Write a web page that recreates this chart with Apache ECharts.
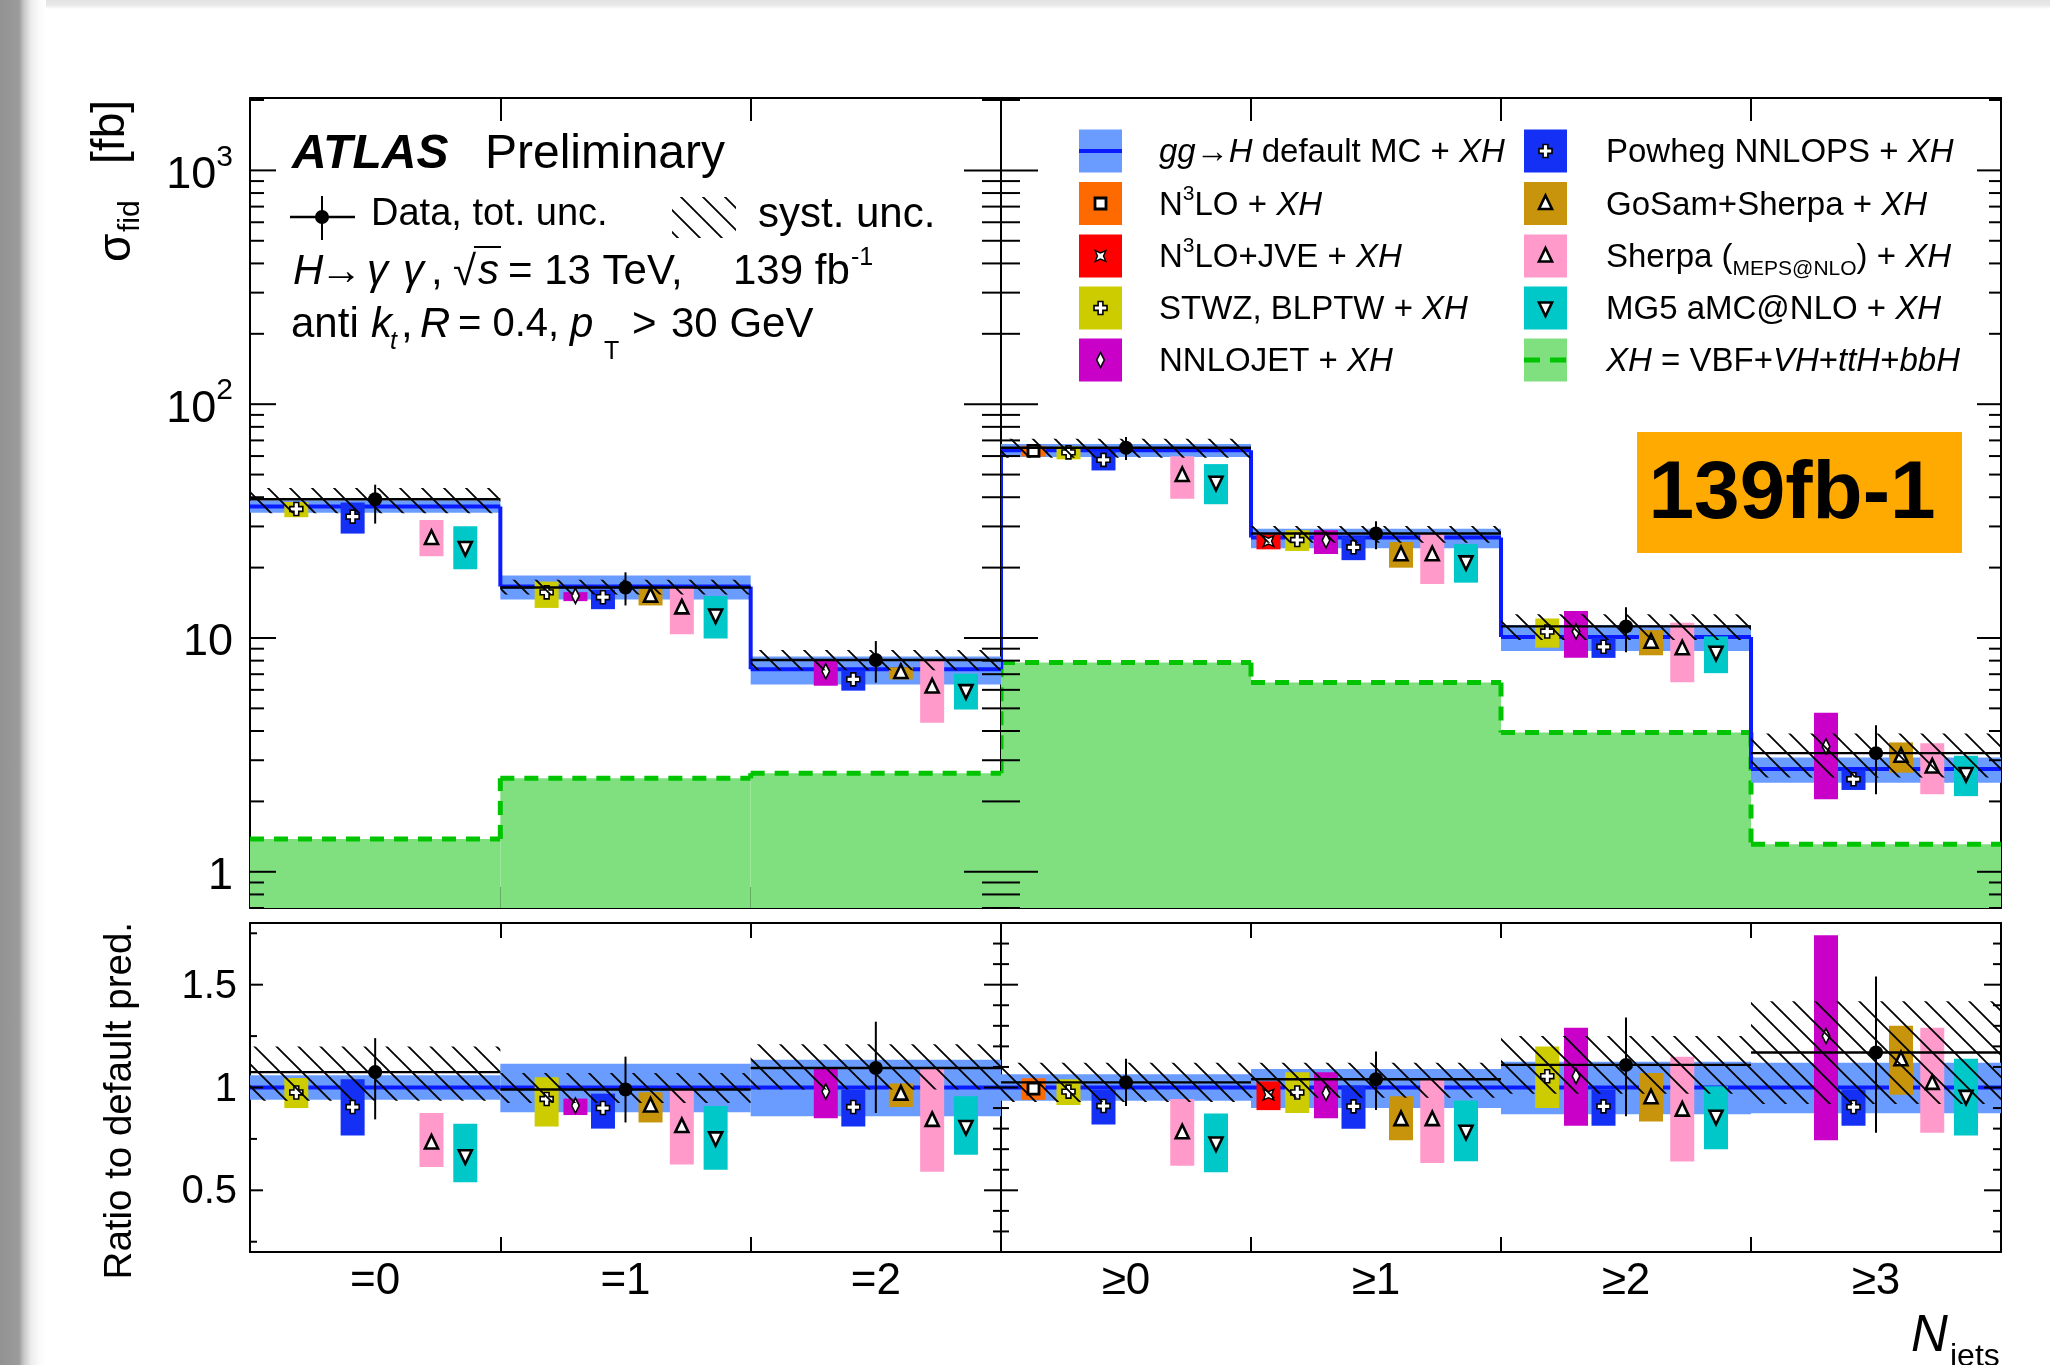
<!DOCTYPE html>
<html>
<head>
<meta charset="utf-8">
<script src="https://cdn.jsdelivr.net/npm/echarts@6/dist/echarts.min.js"></script>
<style>
html,body{margin:0;padding:0;background:#fff;}
#wrap{position:relative;width:2050px;height:1365px;overflow:hidden;background:#fff;}
#tstrip{position:absolute;left:0;top:0;width:2050px;height:9px;background:linear-gradient(to bottom,#e2e2e2 0px,#e8e8e8 5px,#fff 9px);}
#lstrip{position:absolute;left:0;top:0;width:46px;height:1365px;background:linear-gradient(to right,#929292 0px,#9c9c9c 19px,#c8c8c8 24px,#ececec 31px,#fafafa 39px,#fff 46px);}
#chart{position:absolute;left:0;top:0;width:2050px;height:1365px;}
</style>
</head>
<body>
<div id="wrap"><div id="tstrip"></div><div id="lstrip"></div><div id="chart"></div></div>
<script>
// ---------------- DATA ----------------
const binsExcl = ['=0', '=1', '=2'];
const binsIncl = ['≥0', '≥1', '≥2', '≥3'];
const logMajorTicks = [1, 10, 100, 1000];
const ratioMajorTicks = [0.5, 1, 1.5];

// default gg->H MC + XH prediction [fb]
const mcExcl = [36.5, 16.6, 7.35];
const mcIncl = [63.5, 26.9, 10.1, 2.75];
// default MC uncertainty band, relative [lo, hi]
const mcBandExcl = [[0.94, 1.06], [0.88, 1.115], [0.86, 1.135]];
const mcBandIncl = [[0.935, 1.065], [0.90, 1.09], [0.87, 1.125], [0.875, 1.12]];
// XH = VBF+VH+ttH+bbH [fb]
const xhExcl = [1.38, 2.51, 2.64];
const xhIncl = [7.85, 6.45, 3.94, 1.31];
// data, ratio to default [value, tot lo, tot hi]
const dataExcl = [[1.075, 0.845, 1.24], [0.99, 0.83, 1.15], [1.095, 0.876, 1.32]];
const dataIncl = [[1.025, 0.91, 1.14], [1.04, 0.89, 1.175], [1.11, 0.86, 1.34], [1.17, 0.78, 1.54]];
// data systematic band, ratio [lo, hi]
const systExcl = [[0.935, 1.20], [0.925, 1.07], [0.99, 1.21]];
const systIncl = [[0.93, 1.12], [0.95, 1.12], [0.97, 1.25], [0.92, 1.42]];

// predictions, ratio to default [value, lo, hi]
const n3loExcl    = [null, null, null];
const n3loIncl    = [[0.995, 0.94, 1.045], null, null, null];
const n3loJveExcl = [null, null, null];
const n3loJveIncl = [null, [0.965, 0.89, 1.03], null, null];
const stwzExcl    = [[0.976, 0.90, 1.046], [0.944, 0.81, 1.05], null];
const stwzIncl    = [[0.98, 0.915, 1.04], [0.976, 0.876, 1.074], [1.055, 0.90, 1.20], null];
const nnlojetExcl = [null, [0.912, 0.866, 0.946], [0.98, 0.85, 1.10]];
const nnlojetIncl = [null, [0.973, 0.85, 1.074], [1.055, 0.814, 1.29], [1.25, 0.743, 1.74]];
const powhegExcl  = [[0.905, 0.766, 1.04], [0.90, 0.80, 0.97], [0.905, 0.81, 0.99]];
const powhegIncl  = [[0.91, 0.82, 0.99], [0.908, 0.80, 1.01], [0.908, 0.814, 0.99], [0.905, 0.814, 0.99]];
const gosamExcl   = [null, [0.91, 0.83, 0.977], [0.968, 0.905, 1.02]];
const gosamIncl   = [null, [0.844, 0.743, 0.957], [0.95, 0.835, 1.07], [1.135, 0.965, 1.30]];
const sherpaExcl  = [[0.73, 0.613, 0.876], [0.81, 0.625, 0.99], [0.84, 0.59, 1.09]];
const sherpaIncl  = [[0.78, 0.62, 0.944], [0.844, 0.633, 1.046], [0.89, 0.64, 1.15], [1.02, 0.78, 1.29]];
const mg5Excl     = [[0.668, 0.539, 0.824], [0.755, 0.60, 0.91], [0.81, 0.673, 0.957]];
const mg5Incl     = [[0.73, 0.588, 0.873], [0.787, 0.641, 0.937], [0.86, 0.70, 1.006], [0.957, 0.766, 1.14]];

// ---------------- STYLE ----------------
const FONT = '"Liberation Sans", Arial, Helvetica, sans-serif';
const C_BAND = '#6a9cff', C_MCLINE = '#0a1cff', C_GREEN = '#80e080', C_GREEN_LINE = '#00c400';
const models = [
  {name:'N3LO',      color:'#ff6a00', sym:'square',  off:0.13, excl:n3loExcl,    incl:n3loIncl},
  {name:'N3LO+JVE',  color:'#ff0000', sym:'star',    off:0.07, excl:n3loJveExcl, incl:n3loJveIncl},
  {name:'STWZ',      color:'#cccc00', sym:'cross',   off:0.185, offIncl:[0.27,0.185,0.185,0.185], excl:stwzExcl, incl:stwzIncl},
  {name:'NNLOJET',   color:'#c800c8', sym:'diamond', off:0.30, excl:nnlojetExcl, incl:nnlojetIncl},
  {name:'Powheg',    color:'#1430f5', sym:'cross',   off:0.41, excl:powhegExcl,  incl:powhegIncl},
  {name:'GoSam',     color:'#c8940c', sym:'tri',     off:0.60, excl:gosamExcl,   incl:gosamIncl},
  {name:'Sherpa',    color:'#ff9acb', sym:'tri',     off:0.725, excl:sherpaExcl, incl:sherpaIncl},
  {name:'MG5',       color:'#00c8c8', sym:'triDown', off:0.86, excl:mg5Excl,     incl:mg5Incl}
];

function makeHatch() {
  const s = 22, c = document.createElement('canvas');
  c.width = s; c.height = s;
  const g = c.getContext('2d');
  g.strokeStyle = '#000'; g.lineWidth = 1.8;
  g.beginPath();
  g.moveTo(-2, -2); g.lineTo(s + 2, s + 2);
  g.moveTo(s - 3, -3); g.lineTo(s + 3, 3);
  g.moveTo(-3, s - 3); g.lineTo(3, s + 3);
  g.stroke();
  return c;
}
const HATCH = {image: makeHatch(), repeat: 'repeat'};

function markerEl(sym, cx, cy) {
  const st = {fill:'#fff', stroke:'#000', lineWidth:1.6};
  if (sym === 'square') return {type:'rect', shape:{x:cx-5.5, y:cy-5.5, width:11, height:11}, style:{fill:'#fff', stroke:'#000', lineWidth:2.8}};
  if (sym === 'star') {
    const pts = [];
    for (let k = 0; k < 8; k++) { const a = k * Math.PI / 4 + Math.PI/4; const r = (k % 2 === 0) ? 7.5 : 3; pts.push([cx + r*Math.cos(a), cy + r*Math.sin(a)]); }
    return {type:'polygon', shape:{points:pts}, style:{fill:'#fff', stroke:'#000', lineWidth:1.4}};
  }
  if (sym === 'cross') {
    const a = 6.5, b = 2.4;
    return {type:'polygon', shape:{points:[[cx-b,cy-a],[cx+b,cy-a],[cx+b,cy-b],[cx+a,cy-b],[cx+a,cy+b],[cx+b,cy+b],[cx+b,cy+a],[cx-b,cy+a],[cx-b,cy+b],[cx-a,cy+b],[cx-a,cy-b],[cx-b,cy-b]]}, style:st};
  }
  if (sym === 'diamond') return {type:'polygon', shape:{points:[[cx,cy-7.5],[cx+3.8,cy],[cx,cy+7.5],[cx-3.8,cy]]}, style:st};
  if (sym === 'tri') return {type:'polygon', shape:{points:[[cx,cy-8],[cx+6.5,cy+5.5],[cx-6.5,cy+5.5]]}, style:{fill:'#fff', stroke:'#000', lineWidth:2.6}};
  return {type:'polygon', shape:{points:[[cx-6.5,cy-5.5],[cx+6.5,cy-5.5],[cx,cy+8]]}, style:{fill:'#fff', stroke:'#000', lineWidth:2.6}};
}

function bw(api) { return Math.abs(api.coord([1, 1])[0] - api.coord([0, 1])[0]); }

function renderXH(params, api) {
  const cs = params.coordSys, i = api.value(0), v = api.value(1), pv = api.value(2);
  const w = bw(api), c = api.coord([i, v]);
  const x0 = c[0] - w/2, x1 = c[0] + w/2, yb = cs.y + cs.height;
  const yp = pv > 0 ? api.coord([i, pv])[1] : yb;
  const dash = {stroke:C_GREEN_LINE, lineWidth:5, lineDash:[14, 10]};
  return {type:'group', children:[
    {type:'rect', shape:{x:x0, y:c[1], width:w, height:yb - c[1]}, style:{fill:C_GREEN}},
    {type:'line', shape:{x1:x0, y1:c[1], x2:x1, y2:c[1]}, style:dash},
    {type:'line', shape:{x1:x0, y1:yp, x2:x0, y2:c[1]}, style:dash}
  ]};
}
function renderBand(params, api) {
  const i = api.value(0), lo = api.value(1), hi = api.value(2), w = bw(api);
  const a = api.coord([i, hi]), b = api.coord([i, lo]);
  return {type:'rect', shape:{x:a[0]-w/2, y:a[1], width:w, height:b[1]-a[1]}, style:{fill:C_BAND}};
}
function renderMcLine(params, api) {
  const cs = params.coordSys, i = api.value(0), v = api.value(1), pv = api.value(2), w = bw(api);
  const c = api.coord([i, v]);
  const yp = pv > 0 ? api.coord([i, pv])[1] : cs.y + cs.height;
  const st = {stroke:C_MCLINE, lineWidth:4};
  return {type:'group', children:[
    {type:'line', shape:{x1:c[0]-w/2, y1:c[1], x2:c[0]+w/2, y2:c[1]}, style:st},
    {type:'line', shape:{x1:c[0]-w/2, y1:yp, x2:c[0]-w/2, y2:c[1]}, style:st}
  ]};
}
function makeModelRender(m, offs) {
  return function(params, api) {
    const i = api.value(0), v = api.value(1), lo = api.value(2), hi = api.value(3), w = bw(api);
    const c = api.coord([i, v]);
    const cx = c[0] - w/2 + offs[i] * w;
    const yl = api.coord([i, lo])[1], yh = api.coord([i, hi])[1];
    return {type:'group', children:[
      {type:'rect', shape:{x:cx-12, y:yh, width:24, height:yl-yh}, style:{fill:m.color}},
      markerEl(m.sym, cx, c[1])
    ]};
  };
}
function renderHatch(params, api) {
  const i = api.value(0), lo = api.value(1), hi = api.value(2), w = bw(api);
  const a = api.coord([i, hi]), b = api.coord([i, lo]);
  return {type:'rect', shape:{x:a[0]-w/2, y:a[1], width:w, height:b[1]-a[1]}, style:{fill:HATCH}};
}
function renderData(params, api) {
  const i = api.value(0), v = api.value(1), lo = api.value(2), hi = api.value(3), w = bw(api);
  const c = api.coord([i, v]), yl = api.coord([i, lo])[1], yh = api.coord([i, hi])[1];
  return {type:'group', children:[
    {type:'line', shape:{x1:c[0]-w/2, y1:c[1], x2:c[0]+w/2, y2:c[1]}, style:{stroke:'#000', lineWidth:2.4}},
    {type:'line', shape:{x1:c[0], y1:yh, x2:c[0], y2:yl}, style:{stroke:'#000', lineWidth:2}},
    {type:'circle', shape:{cx:c[0], cy:c[1], r:7}, style:{fill:'#000'}}
  ]};
}
function renderTicks(params, api) {
  const cs = params.coordSys, v = api.value(1), lL = api.value(2), lR = api.value(3);
  const y = api.coord([0, v])[1];
  const ch = [];
  if (lL > 0) ch.push({type:'line', shape:{x1:cs.x, y1:y, x2:cs.x+lL, y2:y}, style:{stroke:'#000', lineWidth:2}});
  if (lR > 0) ch.push({type:'line', shape:{x1:cs.x+cs.width-lR, y1:y, x2:cs.x+cs.width, y2:y}, style:{stroke:'#000', lineWidth:2}});
  return {type:'group', children:ch};
}

// ---------------- GRIDS / AXES ----------------
const grids = [
  {left:250, top:98,  width:751, height:810},
  {left:1001, top:98, width:1000, height:810},
  {left:250, top:923, width:751, height:329},
  {left:1001, top:923, width:1000, height:329}
];
const LOGMIN = 0.7, LOGMAX = 2040;
const xAxes = [], yAxes = [];
const axLine = {show:true, lineStyle:{color:'#000', width:2}};
function addAxes(g, bins, upper, showY) {
  xAxes.push({type:'category', gridIndex:g, position:'bottom', data:bins, boundaryGap:true,
    axisLine:axLine, axisTick:{show:true, inside:true, length: upper ? 21 : 15, interval:0, lineStyle:{color:'#000', width:2}},
    axisLabel:{show:!upper, fontSize:44, color:'#000', fontFamily:FONT, margin:8}, splitLine:{show:false}});
  xAxes.push({type:'category', gridIndex:g, position:'top', data:bins, boundaryGap:true,
    axisLine:axLine, axisTick:{show:true, inside:true, length: upper ? 23 : 15, interval:0, lineStyle:{color:'#000', width:2}},
    axisLabel:{show:false}, splitLine:{show:false}});
  const yBase = upper ? {type:'log', logBase:10, min:LOGMIN, max:LOGMAX} : {type:'value', min:0.2, max:1.8, interval:0.1};
  const fmt = upper
    ? function(v) { const k = Math.round(Math.log10(v)); const p = Math.pow(10, k);
        if (Math.abs(v - p) > 1e-6 * p || logMajorTicks.indexOf(p) < 0) return '';
        if (k === 0) return '{b|1}'; if (k === 1) return '{b|10}'; return '{b|10}{s|' + k + '}'; }
    : function(v) { for (const t of ratioMajorTicks) if (Math.abs(v - t) < 1e-6) return '{r|' + (t === 1 ? '1' : String(t)) + '}'; return ''; };
  yAxes.push(Object.assign({gridIndex:g, position:'left', axisLine:axLine, axisTick:{show:false}, splitLine:{show:false},
    axisLabel:{show:showY, formatter:fmt, margin: upper ? 17 : 13, color:'#000', fontFamily:FONT,
      rich:{b:{fontSize:45, lineHeight:56, fontFamily:FONT, color:'#000', padding:[10,0,0,0]}, s:{fontSize:30, lineHeight:30, verticalAlign:'top', fontFamily:FONT, color:'#000'}, r:{fontSize:40, fontFamily:FONT, color:'#000', padding:[4,0,0,0]}}}}, yBase));
  yAxes.push(Object.assign({gridIndex:g, position:'right', axisLine:axLine, axisTick:{show:false}, splitLine:{show:false}, axisLabel:{show:false}}, yBase));
}
addAxes(0, binsExcl, true, true);
addAxes(1, binsIncl, true, false);
addAxes(2, binsExcl, false, true);
addAxes(3, binsIncl, false, false);

// ---------------- SERIES ----------------
const series = [];
function panel(g, bins, mc, band, xh, data, syst, key, upper, prevMc, prevXh) {
  const base = {type:'custom', xAxisIndex:2*g, yAxisIndex:2*g, silent:true, animation:false, clip:true};
  const S = i => upper ? mc[i] : 1;
  if (upper) series.push(Object.assign({}, base, {z:1, data: bins.map((b, i) => [i, xh[i], i === 0 ? prevXh : xh[i-1]]), renderItem: renderXH}));
  series.push(Object.assign({}, base, {z:2, data: bins.map((b, i) => [i, band[i][0]*S(i), band[i][1]*S(i)]), renderItem: renderBand}));
  series.push(Object.assign({}, base, {z:3, data: bins.map((b, i) => [i, S(i), upper ? (i === 0 ? prevMc : mc[i-1]) : 1]), renderItem: renderMcLine}));
  models.forEach(m => {
    const arr = m[key];
    const offs = bins.map((b, i) => (key === 'incl' && m.offIncl) ? m.offIncl[i] : m.off);
    const d = [];
    arr.forEach((p, i) => { if (p) d.push([i, p[0]*S(i), p[1]*S(i), p[2]*S(i)]); });
    if (d.length) series.push(Object.assign({}, base, {z:4, data:d, renderItem: makeModelRender(m, offs)}));
  });
  series.push(Object.assign({}, base, {z:5, data: bins.map((b, i) => [i, syst[i][0]*S(i), syst[i][1]*S(i)]), renderItem: renderHatch}));
  series.push(Object.assign({}, base, {z:6, data: bins.map((b, i) => [i, data[i][0]*S(i), data[i][1]*S(i), data[i][2]*S(i)]), renderItem: renderData}));
}
panel(0, binsExcl, mcExcl, mcBandExcl, xhExcl, dataExcl, systExcl, 'excl', true, mcExcl[0], xhExcl[0]);
panel(1, binsIncl, mcIncl, mcBandIncl, xhIncl, dataIncl, systIncl, 'incl', true, mcExcl[mcExcl.length-1], xhExcl[xhExcl.length-1]);
panel(2, binsExcl, mcExcl, mcBandExcl, null, dataExcl, systExcl, 'excl', false, 1, 0);
panel(3, binsIncl, mcIncl, mcBandIncl, null, dataIncl, systIncl, 'incl', false, 1, 0);

// axis tick marks (major / minor) on the vertical frame edges
function logTickData(lMaj, lMin, rMaj, rMin) {
  const d = [];
  for (let e = -1; e <= 3; e++) for (let k = 1; k <= 9; k++) {
    const v = k * Math.pow(10, e);
    if (v < LOGMIN || v > LOGMAX) continue;
    d.push(k === 1 ? [0, v, lMaj, rMaj] : [0, v, lMin, rMin]);
  }
  return d;
}
function ratioTickData(lMaj, lMin, lStep, rMaj, rMin) {
  const d = [];
  for (let n = 2; n <= 18; n++) {
    const v = n / 10;
    const maj = ratioMajorTicks.some(t => Math.abs(t - v) < 1e-6);
    const onLeft = maj || (lStep < 0.2);
    d.push([0, v, maj ? lMaj : (onLeft ? lMin : 0), maj ? rMaj : rMin]);
  }
  if (lStep >= 0.2) for (let v = 0.25; v < 1.8; v += 0.5) d.push([0, v, lMin, 0]);
  return d;
}
const tickBase = {type:'custom', silent:true, animation:false, z:10, renderItem:renderTicks};
series.push(Object.assign({}, tickBase, {xAxisIndex:0, yAxisIndex:0, data: logTickData(26, 14, 37, 19)}));
series.push(Object.assign({}, tickBase, {xAxisIndex:2, yAxisIndex:2, data: logTickData(37, 19, 24, 12)}));
series.push(Object.assign({}, tickBase, {xAxisIndex:4, yAxisIndex:4, data: ratioTickData(13, 7, 0.25, 17, 8)}));
series.push(Object.assign({}, tickBase, {xAxisIndex:6, yAxisIndex:6, data: ratioTickData(17, 8, 0.1, 17, 8)}));

// ---------------- GRAPHIC (texts, legend) ----------------
const T = (x, y, text, sty, extra) => Object.assign({type:'text', x, y, z:100, style:Object.assign({text, fill:'#000', fontFamily:FONT, verticalAlign:'middle'}, sty)}, extra || {});
const rich33 = {
  n:{fontSize:33, lineHeight:44, fontFamily:FONT, fill:'#000'},
  i:{fontSize:33, lineHeight:44, fontStyle:'italic', fontFamily:FONT, fill:'#000'},
  sup:{fontSize:21, lineHeight:22, verticalAlign:'top', fontFamily:FONT, fill:'#000'},
  sm:{fontSize:21, lineHeight:33, verticalAlign:'bottom', fontFamily:FONT, fill:'#000'}
};
const graphic = [];
graphic.push(T(292, 155, 'ATLAS', {fontSize:48, fontWeight:'bold', fontStyle:'italic'}));
graphic.push(T(485, 155, 'Preliminary', {fontSize:48}));
// data legend marker
graphic.push({type:'line', z:100, shape:{x1:290, y1:217, x2:355, y2:217}, style:{stroke:'#000', lineWidth:2.4}});
graphic.push({type:'line', z:100, shape:{x1:322, y1:196, x2:322, y2:240}, style:{stroke:'#000', lineWidth:2}});
graphic.push({type:'circle', z:100, shape:{cx:322, cy:217, r:7}, style:{fill:'#000'}});
graphic.push(T(371, 215, 'Data, tot. unc.', {fontSize:38}));
graphic.push({type:'rect', z:100, shape:{x:672, y:197, width:64, height:41}, style:{fill:HATCH}});
graphic.push(T(758, 215, 'syst. unc.', {fontSize:42}));
// line 3: H->gamma gamma, sqrt(s) = 13 TeV, 139 fb-1  (baseline ~287)
const L3 = 272, F3 = 42;
graphic.push(T(293, L3, 'H', {fontSize:F3, fontStyle:'italic'}));
graphic.push(T(320, L3, '→', {fontSize:F3}));
graphic.push(T(367, L3, 'γ', {fontSize:F3, fontStyle:'italic'}));
graphic.push(T(403, L3, 'γ', {fontSize:F3, fontStyle:'italic'}));
graphic.push(T(431, L3, ',', {fontSize:F3}));
graphic.push(T(453, L3 + 1, '√', {fontSize:F3}));
graphic.push({type:'line', z:100, shape:{x1:474, y1:247, x2:501, y2:247}, style:{stroke:'#000', lineWidth:2}});
graphic.push(T(478, L3, 's', {fontSize:F3, fontStyle:'italic'}));
graphic.push(T(508, L3, '= 13 TeV,', {fontSize:F3}));
graphic.push(T(733, L3, '139 fb', {fontSize:F3}));
graphic.push(T(851, 258, '-1', {fontSize:25}));
// line 4: anti kt, R = 0.4, pT > 30 GeV  (baseline ~340)
const L4 = 325;
graphic.push(T(291, L4, 'anti', {fontSize:F3}));
graphic.push(T(371, L4, 'k', {fontSize:F3, fontStyle:'italic'}));
graphic.push(T(390, 342, 't', {fontSize:25, fontStyle:'italic'}));
graphic.push(T(401, L4, ',', {fontSize:F3}));
graphic.push(T(420, L4, 'R', {fontSize:F3, fontStyle:'italic'}));
graphic.push(T(458, L4, '= 0.4,', {fontSize:40}));
graphic.push(T(570, L4, 'p', {fontSize:F3, fontStyle:'italic'}));
graphic.push(T(604, 352, 'T', {fontSize:25}));
graphic.push(T(632, L4, '>', {fontSize:F3}));
graphic.push(T(671, L4, '30 GeV', {fontSize:F3}));

// legend
const legendCols = [{sx:1100.5, tx:1159}, {sx:1545.5, tx:1606}];
const legendRows = [151, 203.5, 256, 308, 360];
const legendItems = [
  {col:0, row:0, kind:'mc', text:'{i|gg→H}{n| default MC + }{i|XH}'},
  {col:0, row:1, m:0, text:'{n|N}{sup|3}{n|LO + }{i|XH}'},
  {col:0, row:2, m:1, text:'{n|N}{sup|3}{n|LO+JVE + }{i|XH}'},
  {col:0, row:3, m:2, text:'{n|STWZ, BLPTW + }{i|XH}'},
  {col:0, row:4, m:3, text:'{n|NNLOJET + }{i|XH}'},
  {col:1, row:0, m:4, text:'{n|Powheg NNLOPS + }{i|XH}'},
  {col:1, row:1, m:5, text:'{n|GoSam+Sherpa + }{i|XH}'},
  {col:1, row:2, m:6, text:'{n|Sherpa (}{sm|MEPS@NLO}{n|) + }{i|XH}'},
  {col:1, row:3, m:7, text:'{n|MG5 aMC@NLO + }{i|XH}'},
  {col:1, row:4, kind:'xh', text:'{i|XH}{n| = VBF+}{i|VH}{n|+}{i|ttH}{n|+}{i|bbH}'}
];
legendItems.forEach(it => {
  const cx = legendCols[it.col].sx, cy = legendRows[it.row];
  const s = 43, x0 = cx - s/2, y0 = cy - s/2;
  if (it.kind === 'mc') {
    graphic.push({type:'rect', z:100, shape:{x:x0, y:y0, width:s, height:s}, style:{fill:C_BAND}});
    graphic.push({type:'line', z:100, shape:{x1:x0, y1:cy, x2:x0+s, y2:cy}, style:{stroke:C_MCLINE, lineWidth:4}});
  } else if (it.kind === 'xh') {
    graphic.push({type:'rect', z:100, shape:{x:x0, y:y0, width:s, height:s}, style:{fill:C_GREEN}});
    graphic.push({type:'line', z:100, shape:{x1:x0, y1:cy, x2:x0+s, y2:cy}, style:{stroke:C_GREEN_LINE, lineWidth:5, lineDash:[16, 10]}});
  } else {
    graphic.push({type:'rect', z:100, shape:{x:x0, y:y0, width:s, height:s}, style:{fill:models[it.m].color}});
    graphic.push(Object.assign({z:101}, markerEl(models[it.m].sym, cx, cy)));
  }
  graphic.push(T(legendCols[it.col].tx, cy + 2, it.text, {rich:rich33}));
});

// luminosity badge
graphic.push({type:'rect', z:100, shape:{x:1637, y:432, width:325, height:121}, style:{fill:'#ffaa00'}});
graphic.push(T(1792, 495, '139fb-1', {fontSize:82, fontWeight:'bold', align:'center'}));

// axis titles
graphic.push(T(117, 262, 'σ', {fontSize:46}, {rotation:Math.PI/2}));
graphic.push(T(131, 232, 'fid', {fontSize:30}, {rotation:Math.PI/2}));
graphic.push(T(111, 100, '[fb]', {fontSize:46, align:'right'}, {rotation:Math.PI/2}));
graphic.push(T(120, 922, 'Ratio to default pred.', {fontSize:38.5, align:'right'}, {rotation:Math.PI/2}));
graphic.push(T(1911, 1362, 'N', {fontSize:51, fontStyle:'italic', verticalAlign:'bottom'}));
graphic.push(T(1950, 1373, 'jets', {fontSize:32, verticalAlign:'bottom'}));

const chart = echarts.init(document.getElementById('chart'), null, {renderer:'canvas', width:2050, height:1365});
chart.setOption({
  animation:false,
  backgroundColor:'transparent',
  textStyle:{fontFamily:FONT},
  grid: grids,
  xAxis: xAxes,
  yAxis: yAxes,
  series: series,
  graphic: graphic
});
</script>
</body>
</html>
